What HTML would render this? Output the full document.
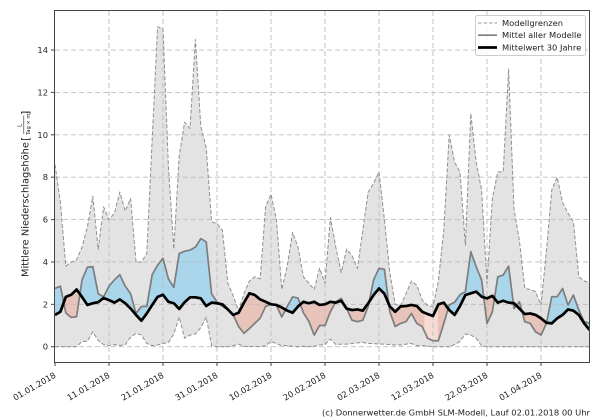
<!DOCTYPE html>
<html><head><meta charset="utf-8">
<style>
html,body{margin:0;padding:0;background:#fff;width:600px;height:420px;overflow:hidden;}
svg{display:block;position:absolute;left:0;top:0;}
text{font-family:"DejaVu Sans","Liberation Sans",sans-serif;fill:#222;}
</style></head><body>
<svg width="600" height="420" viewBox="0 0 600 420" xmlns="http://www.w3.org/2000/svg" style="overflow:hidden">
<defs>
<clipPath id="axclip"><rect x="55" y="11" width="534" height="351"/></clipPath>
<clipPath id="cAbove30" clipPathUnits="userSpaceOnUse"><path d="M0 1.5 L1 1.65 2 2.35 3 2.45 4 2.7 5 2.35 6 1.97 7 2.05 8 2.1 9 2.3 10 2.2 11 2.08 12 2.23 13 2.05 14 1.8 15 1.5 16 1.23 17 1.57 18 1.97 19 2.35 20 2.45 21 2.12 22 2.05 23 1.78 24 2.1 25 2.33 26 2.33 27 2.28 28 1.92 29 2.08 30 2.05 31 2 32 1.76 33 1.5 34 1.6 35 2.08 36 2.52 37 2.44 38 2.23 39 2.12 40 2 41 1.97 42 1.85 43 1.7 44 1.6 45 1.9 46 2.12 47 2.05 48 2.12 49 1.97 50 2 51 2.12 52 2.08 53 2.17 54 1.8 55 1.73 56 1.76 57 1.7 58 2.05 59 2.44 60 2.75 61 2.5 62 1.9 63 1.65 64 1.9 65 1.92 66 1.97 67 1.92 68 1.65 69 1.54 70 1.45 71 2 72 2.08 73 1.73 74 1.5 75 1.92 76 2.44 77 2.52 78 2.6 79 2.36 80 2.28 81 2.4 82 2.08 83 2.17 84 2.08 85 2.05 86 1.8 87 1.54 88 1.57 89 1.5 90 1.34 91 1.13 92 1.1 93 1.34 94 1.5 95 1.76 96 1.7 97 1.5 98 1.1 99 0.79 L99 15.8 L0 15.8 Z"/></clipPath>
<clipPath id="cBelow30" clipPathUnits="userSpaceOnUse"><path d="M0 1.5 L1 1.65 2 2.35 3 2.45 4 2.7 5 2.35 6 1.97 7 2.05 8 2.1 9 2.3 10 2.2 11 2.08 12 2.23 13 2.05 14 1.8 15 1.5 16 1.23 17 1.57 18 1.97 19 2.35 20 2.45 21 2.12 22 2.05 23 1.78 24 2.1 25 2.33 26 2.33 27 2.28 28 1.92 29 2.08 30 2.05 31 2 32 1.76 33 1.5 34 1.6 35 2.08 36 2.52 37 2.44 38 2.23 39 2.12 40 2 41 1.97 42 1.85 43 1.7 44 1.6 45 1.9 46 2.12 47 2.05 48 2.12 49 1.97 50 2 51 2.12 52 2.08 53 2.17 54 1.8 55 1.73 56 1.76 57 1.7 58 2.05 59 2.44 60 2.75 61 2.5 62 1.9 63 1.65 64 1.9 65 1.92 66 1.97 67 1.92 68 1.65 69 1.54 70 1.45 71 2 72 2.08 73 1.73 74 1.5 75 1.92 76 2.44 77 2.52 78 2.6 79 2.36 80 2.28 81 2.4 82 2.08 83 2.17 84 2.08 85 2.05 86 1.8 87 1.54 88 1.57 89 1.5 90 1.34 91 1.13 92 1.1 93 1.34 94 1.5 95 1.76 96 1.7 97 1.5 98 1.1 99 0.79 L99 -0.7 L0 -0.7 Z"/></clipPath>
<clipPath id="cAboveMean" clipPathUnits="userSpaceOnUse"><path d="M0 2.75 L1 2.86 2 1.6 3 1.38 4 1.42 5 3.15 6 3.75 7 3.78 8 2.5 9 2.35 10 2.86 11 3.15 12 3.4 13 2.86 14 2.5 15 1.57 16 1.9 17 1.9 18 3.4 19 3.85 20 4.17 21 3.2 22 2.8 23 4.4 24 4.5 25 4.56 26 4.7 27 5.1 28 4.95 29 2.5 30 2.1 31 1.9 32 1.75 33 1.5 34 0.95 35 0.63 36 0.86 37 1.1 38 1.35 39 1.9 40 2 41 1.95 42 1.4 43 1.9 44 2.35 45 2.3 46 1.6 47 1.2 48 0.55 49 1 50 1 51 1.65 52 2.12 53 2.28 54 1.8 55 1.25 56 1.18 57 1.25 58 1.9 59 3.15 60 3.7 61 3.65 62 1.65 63 0.95 64 1.1 65 1.18 66 1.57 67 1.1 68 0.95 69 0.4 70 0.28 71 0.28 72 1.1 73 1.97 74 2.1 75 2.45 76 2.6 77 4.48 78 3.77 79 3.15 80 1.1 81 1.65 82 3.3 83 3.38 84 3.8 85 1.8 86 2.12 87 1.18 88 1.1 89 0.7 90 0.55 91 1.1 92 2.36 93 2.36 94 2.75 95 1.97 96 2.44 97 1.73 98 1.18 99 1.1 L99 15.8 L0 15.8 Z"/></clipPath>
</defs>
<rect width="600" height="420" fill="#fff"/>

<g clip-path="url(#axclip)">
 <g transform="translate(55,346.7) scale(5.4,-21.19)">
  <path fill="#e3e3e3" d="M0 8.6 L1 6.8 2 3.8 3 4 4 4.1 5 4.7 6 5.65 7 7.1 8 4.6 9 6.6 10 6 11 6.3 12 7.3 13 6.4 14 7 15 4 16 4 17 4.4 18 9.8 19 15.1 20 15 21 8.5 22 4.6 23 9 24 10.6 25 10.3 26 14.5 27 10.4 28 9.4 29 5.9 30 5.8 31 5.5 32 3 33 2.4 34 1.7 35 2.5 36 3.1 37 3.3 38 3.2 39 6.6 40 7.2 41 6 42 2.7 43 3.8 44 5.4 45 4.7 46 3.3 47 3 48 2.7 49 3.7 50 3 51 6.1 52 4.7 53 3.5 54 4.6 55 4.3 56 3.7 57 5.5 58 7.3 59 7.7 60 8.25 61 6 62 3.5 63 2 64 1.95 65 2.5 66 3.1 67 2.9 68 2.2 69 1.95 70 1.9 71 3.1 72 5.5 73 10 74 8.7 75 8.25 76 4.8 77 11 78 8.7 79 7.4 80 3 81 7 82 8.25 83 8.25 84 13.1 85 6.5 86 5 87 2.75 88 2.7 89 2.6 90 1.95 91 4.5 92 7.4 93 8 94 6.8 95 6.3 96 5.9 97 3.3 98 3.1 99 3 L99 0 80 0 79 0.05 78 0.4 77 0.55 76 0.6 75 0.25 74 0.1 73 0 72 0 71 0 70 0 69 0.03 68 0.05 67 0.05 66 0.15 65 0.12 64 0.08 63 0.08 62 0.1 61 0.12 60 0.12 59 0.15 58 0.15 57 0.2 56 0.18 55 0.15 54 0.12 53 0.12 52 0.1 51 0.36 50 0.1 49 0.08 48 0.02 47 0 46 0.02 45 0 44 0.02 43 0.05 42 0.05 41 0.15 40 0.25 39 0.05 38 0 37 0.02 36 0 35 0.02 34 0.12 33 0.05 32 0 31 0 30 0 29 0.05 28 1.4 27 0.9 26 0.6 25 0.55 24 0.4 23 1.4 22 0.6 21 0.2 20 0.15 19 0.08 18 0.05 17 0.15 16 0.55 15 0.63 14 0.45 13 0.1 12 0.05 11 0.1 10 0.05 9 0.1 8 0.3 7 0.7 6 0.25 5 0.25 4 0 3 0 2 0 1 0 0 0 Z"/>
  <g clip-path="url(#cAbove30)">
   <path fill="#a9d6eb" d="M0 2.75 L1 2.86 2 1.6 3 1.38 4 1.42 5 3.15 6 3.75 7 3.78 8 2.5 9 2.35 10 2.86 11 3.15 12 3.4 13 2.86 14 2.5 15 1.57 16 1.9 17 1.9 18 3.4 19 3.85 20 4.17 21 3.2 22 2.8 23 4.4 24 4.5 25 4.56 26 4.7 27 5.1 28 4.95 29 2.5 30 2.1 31 1.9 32 1.75 33 1.5 34 0.95 35 0.63 36 0.86 37 1.1 38 1.35 39 1.9 40 2 41 1.95 42 1.4 43 1.9 44 2.35 45 2.3 46 1.6 47 1.2 48 0.55 49 1 50 1 51 1.65 52 2.12 53 2.28 54 1.8 55 1.25 56 1.18 57 1.25 58 1.9 59 3.15 60 3.7 61 3.65 62 1.65 63 0.95 64 1.1 65 1.18 66 1.57 67 1.1 68 0.95 69 0.4 70 0.28 71 0.28 72 1.1 73 1.97 74 2.1 75 2.45 76 2.6 77 4.48 78 3.77 79 3.15 80 1.1 81 1.65 82 3.3 83 3.38 84 3.8 85 1.8 86 2.12 87 1.18 88 1.1 89 0.7 90 0.55 91 1.1 92 2.36 93 2.36 94 2.75 95 1.97 96 2.44 97 1.73 98 1.18 99 1.1 L99 -0.7 L0 -0.7 Z"/>
  </g>
  <g clip-path="url(#cBelow30)">
   <path fill="#e8c3ba" d="M0 2.75 L1 2.86 2 1.6 3 1.38 4 1.42 5 3.15 6 3.75 7 3.78 8 2.5 9 2.35 10 2.86 11 3.15 12 3.4 13 2.86 14 2.5 15 1.57 16 1.9 17 1.9 18 3.4 19 3.85 20 4.17 21 3.2 22 2.8 23 4.4 24 4.5 25 4.56 26 4.7 27 5.1 28 4.95 29 2.5 30 2.1 31 1.9 32 1.75 33 1.5 34 0.95 35 0.63 36 0.86 37 1.1 38 1.35 39 1.9 40 2 41 1.95 42 1.4 43 1.9 44 2.35 45 2.3 46 1.6 47 1.2 48 0.55 49 1 50 1 51 1.65 52 2.12 53 2.28 54 1.8 55 1.25 56 1.18 57 1.25 58 1.9 59 3.15 60 3.7 61 3.65 62 1.65 63 0.95 64 1.1 65 1.18 66 1.57 67 1.1 68 0.95 69 0.4 70 0.28 71 0.28 72 1.1 73 1.97 74 2.1 75 2.45 76 2.6 77 4.48 78 3.77 79 3.15 80 1.1 81 1.65 82 3.3 83 3.38 84 3.8 85 1.8 86 2.12 87 1.18 88 1.1 89 0.7 90 0.55 91 1.1 92 2.36 93 2.36 94 2.75 95 1.97 96 2.44 97 1.73 98 1.18 99 1.1 L99 15.8 L0 15.8 Z"/>
   <g clip-path="url(#cAboveMean)">
    <rect x="68.4" y="0" width="2.5" height="1.65" fill="#f6dbd4"/>
   </g>
  </g>
 </g>

 <g stroke="#bdbdbd" stroke-width="0.9" stroke-dasharray="5 3" fill="none">
  <line x1="55" y1="346.7" x2="589" y2="346.7"/>
  <line x1="55" y1="304.32" x2="589" y2="304.32"/>
  <line x1="55" y1="261.94" x2="589" y2="261.94"/>
  <line x1="55" y1="219.56" x2="589" y2="219.56"/>
  <line x1="55" y1="177.18" x2="589" y2="177.18"/>
  <line x1="55" y1="134.8" x2="589" y2="134.8"/>
  <line x1="55" y1="92.42" x2="589" y2="92.42"/>
  <line x1="55" y1="50.04" x2="589" y2="50.04"/>
  <line x1="109" y1="11" x2="109" y2="362"/>
  <line x1="163" y1="11" x2="163" y2="362"/>
  <line x1="217" y1="11" x2="217" y2="362"/>
  <line x1="271" y1="11" x2="271" y2="362"/>
  <line x1="325" y1="11" x2="325" y2="362"/>
  <line x1="379" y1="11" x2="379" y2="362"/>
  <line x1="433" y1="11" x2="433" y2="362"/>
  <line x1="487" y1="11" x2="487" y2="362"/>
  <line x1="541" y1="11" x2="541" y2="362"/>
 </g>

 <g transform="translate(55,346.7) scale(5.4,-21.19)" fill="none" stroke-linejoin="round">
  <path vector-effect="non-scaling-stroke" stroke="#8f8f8f" stroke-width="1" stroke-dasharray="4 2" d="M0 8.6 L1 6.8 2 3.8 3 4 4 4.1 5 4.7 6 5.65 7 7.1 8 4.6 9 6.6 10 6 11 6.3 12 7.3 13 6.4 14 7 15 4 16 4 17 4.4 18 9.8 19 15.1 20 15 21 8.5 22 4.6 23 9 24 10.6 25 10.3 26 14.5 27 10.4 28 9.4 29 5.9 30 5.8 31 5.5 32 3 33 2.4 34 1.7 35 2.5 36 3.1 37 3.3 38 3.2 39 6.6 40 7.2 41 6 42 2.7 43 3.8 44 5.4 45 4.7 46 3.3 47 3 48 2.7 49 3.7 50 3 51 6.1 52 4.7 53 3.5 54 4.6 55 4.3 56 3.7 57 5.5 58 7.3 59 7.7 60 8.25 61 6 62 3.5 63 2 64 1.95 65 2.5 66 3.1 67 2.9 68 2.2 69 1.95 70 1.9 71 3.1 72 5.5 73 10 74 8.7 75 8.25 76 4.8 77 11 78 8.7 79 7.4 80 3 81 7 82 8.25 83 8.25 84 13.1 85 6.5 86 5 87 2.75 88 2.7 89 2.6 90 1.95 91 4.5 92 7.4 93 8 94 6.8 95 6.3 96 5.9 97 3.3 98 3.1 99 3"/>
  <path vector-effect="non-scaling-stroke" stroke="#8f8f8f" stroke-width="1" stroke-dasharray="4 2" d="M0 0 L1 0 2 0 3 0 4 0 5 0.25 6 0.25 7 0.7 8 0.3 9 0.1 10 0.05 11 0.1 12 0.05 13 0.1 14 0.45 15 0.63 16 0.55 17 0.15 18 0.05 19 0.08 20 0.15 21 0.2 22 0.6 23 1.4 24 0.4 25 0.55 26 0.6 27 0.9 28 1.4 29 0.05 30 0 31 0 32 0 33 0.05 34 0.12 35 0.02 36 0 37 0.02 38 0 39 0.05 40 0.25 41 0.15 42 0.05 43 0.05 44 0.02 45 0 46 0.02 47 0 48 0.02 49 0.08 50 0.1 51 0.36 52 0.1 53 0.12 54 0.12 55 0.15 56 0.18 57 0.2 58 0.15 59 0.15 60 0.12 61 0.12 62 0.1 63 0.08 64 0.08 65 0.12 66 0.15 67 0.05 68 0.05 69 0.03 70 0 71 0 72 0 73 0 74 0.1 75 0.25 76 0.6 77 0.55 78 0.4 79 0.05 80 0 99 0"/>
  <path vector-effect="non-scaling-stroke" stroke="#7d7d7d" stroke-width="1.7" d="M0 2.75 L1 2.86 2 1.6 3 1.38 4 1.42 5 3.15 6 3.75 7 3.78 8 2.5 9 2.35 10 2.86 11 3.15 12 3.4 13 2.86 14 2.5 15 1.57 16 1.9 17 1.9 18 3.4 19 3.85 20 4.17 21 3.2 22 2.8 23 4.4 24 4.5 25 4.56 26 4.7 27 5.1 28 4.95 29 2.5 30 2.1 31 1.9 32 1.75 33 1.5 34 0.95 35 0.63 36 0.86 37 1.1 38 1.35 39 1.9 40 2 41 1.95 42 1.4 43 1.9 44 2.35 45 2.3 46 1.6 47 1.2 48 0.55 49 1 50 1 51 1.65 52 2.12 53 2.28 54 1.8 55 1.25 56 1.18 57 1.25 58 1.9 59 3.15 60 3.7 61 3.65 62 1.65 63 0.95 64 1.1 65 1.18 66 1.57 67 1.1 68 0.95 69 0.4 70 0.28 71 0.28 72 1.1 73 1.97 74 2.1 75 2.45 76 2.6 77 4.48 78 3.77 79 3.15 80 1.1 81 1.65 82 3.3 83 3.38 84 3.8 85 1.8 86 2.12 87 1.18 88 1.1 89 0.7 90 0.55 91 1.1 92 2.36 93 2.36 94 2.75 95 1.97 96 2.44 97 1.73 98 1.18 99 1.1"/>
  <path vector-effect="non-scaling-stroke" stroke="#000" stroke-width="2.7" d="M0 1.5 L1 1.65 2 2.35 3 2.45 4 2.7 5 2.35 6 1.97 7 2.05 8 2.1 9 2.3 10 2.2 11 2.08 12 2.23 13 2.05 14 1.8 15 1.5 16 1.23 17 1.57 18 1.97 19 2.35 20 2.45 21 2.12 22 2.05 23 1.78 24 2.1 25 2.33 26 2.33 27 2.28 28 1.92 29 2.08 30 2.05 31 2 32 1.76 33 1.5 34 1.6 35 2.08 36 2.52 37 2.44 38 2.23 39 2.12 40 2 41 1.97 42 1.85 43 1.7 44 1.6 45 1.9 46 2.12 47 2.05 48 2.12 49 1.97 50 2 51 2.12 52 2.08 53 2.17 54 1.8 55 1.73 56 1.76 57 1.7 58 2.05 59 2.44 60 2.75 61 2.5 62 1.9 63 1.65 64 1.9 65 1.92 66 1.97 67 1.92 68 1.65 69 1.54 70 1.45 71 2 72 2.08 73 1.73 74 1.5 75 1.92 76 2.44 77 2.52 78 2.6 79 2.36 80 2.28 81 2.4 82 2.08 83 2.17 84 2.08 85 2.05 86 1.8 87 1.54 88 1.57 89 1.5 90 1.34 91 1.13 92 1.1 93 1.34 94 1.5 95 1.76 96 1.7 97 1.5 98 1.1 99 0.79"/>
 </g>
</g>

<rect x="54.5" y="10.5" width="535" height="352" fill="none" stroke="#444" stroke-width="1"/>

<g stroke="#444" stroke-width="1">
 <line x1="51" y1="346.7" x2="54.5" y2="346.7"/>
 <line x1="51" y1="304.32" x2="54.5" y2="304.32"/>
 <line x1="51" y1="261.94" x2="54.5" y2="261.94"/>
 <line x1="51" y1="219.56" x2="54.5" y2="219.56"/>
 <line x1="51" y1="177.18" x2="54.5" y2="177.18"/>
 <line x1="51" y1="134.8" x2="54.5" y2="134.8"/>
 <line x1="51" y1="92.42" x2="54.5" y2="92.42"/>
 <line x1="51" y1="50.04" x2="54.5" y2="50.04"/>
 <line x1="55" y1="362.5" x2="55" y2="366"/>
 <line x1="109" y1="362.5" x2="109" y2="366"/>
 <line x1="163" y1="362.5" x2="163" y2="366"/>
 <line x1="217" y1="362.5" x2="217" y2="366"/>
 <line x1="271" y1="362.5" x2="271" y2="366"/>
 <line x1="325" y1="362.5" x2="325" y2="366"/>
 <line x1="379" y1="362.5" x2="379" y2="366"/>
 <line x1="433" y1="362.5" x2="433" y2="366"/>
 <line x1="487" y1="362.5" x2="487" y2="366"/>
 <line x1="541" y1="362.5" x2="541" y2="366"/>
</g>
<g font-size="8.33" text-anchor="end">
 <text x="48" y="349.7">0</text>
 <text x="48" y="307.3">2</text>
 <text x="48" y="264.9">4</text>
 <text x="48" y="222.6">6</text>
 <text x="48" y="180.2">8</text>
 <text x="48" y="137.8">10</text>
 <text x="48" y="95.4">12</text>
 <text x="48" y="53">14</text>
</g>
<g font-size="8.33" text-anchor="end">
 <text transform="translate(56.5,377) rotate(-30)">01.01.2018</text>
 <text transform="translate(110.5,377) rotate(-30)">11.01.2018</text>
 <text transform="translate(164.5,377) rotate(-30)">21.01.2018</text>
 <text transform="translate(218.5,377) rotate(-30)">31.01.2018</text>
 <text transform="translate(272.5,377) rotate(-30)">10.02.2018</text>
 <text transform="translate(326.5,377) rotate(-30)">20.02.2018</text>
 <text transform="translate(380.5,377) rotate(-30)">02.03.2018</text>
 <text transform="translate(434.5,377) rotate(-30)">12.03.2018</text>
 <text transform="translate(488.5,377) rotate(-30)">22.03.2018</text>
 <text transform="translate(542.5,377) rotate(-30)">01.04.2018</text>
</g>

<text transform="translate(28.5,277) rotate(-90)" font-size="10" textLength="135" lengthAdjust="spacingAndGlyphs">Mittlere Niederschlagshöhe</text>
<text transform="translate(29,141) rotate(-90)" font-size="11">[</text>
<text transform="translate(21.5,127) rotate(-90)" font-size="6">L</text>
<line x1="23.8" y1="134" x2="23.8" y2="115.5" stroke="#222" stroke-width="0.6"/>
<text transform="translate(30,135) rotate(-90)" font-size="5.2">Tag × m²</text>
<text transform="translate(29,115) rotate(-90)" font-size="11">]</text>

<rect x="475.5" y="15.5" width="110" height="40" rx="2" fill="#fff" fill-opacity="0.85" stroke="#cccccc" stroke-width="1"/>
<line x1="478" y1="23" x2="497" y2="23" stroke="#999" stroke-width="1" stroke-dasharray="3.5 2"/>
<line x1="478" y1="35.2" x2="497" y2="35.2" stroke="#7d7d7d" stroke-width="1.7"/>
<line x1="478" y1="47.5" x2="497" y2="47.5" stroke="#000" stroke-width="2.7"/>
<g font-size="8.33">
 <text x="502" y="26">Modellgrenzen</text>
 <text x="502" y="38.2">Mittel aller Modelle</text>
 <text x="502" y="50.5">Mittelwert 30 Jahre</text>
</g>

<text x="590" y="415.5" font-size="8.2" text-anchor="end" textLength="268" lengthAdjust="spacingAndGlyphs">(c) Donnerwetter.de GmbH SLM-Modell, Lauf 02.01.2018 00 Uhr</text>
</svg>
</body></html>
